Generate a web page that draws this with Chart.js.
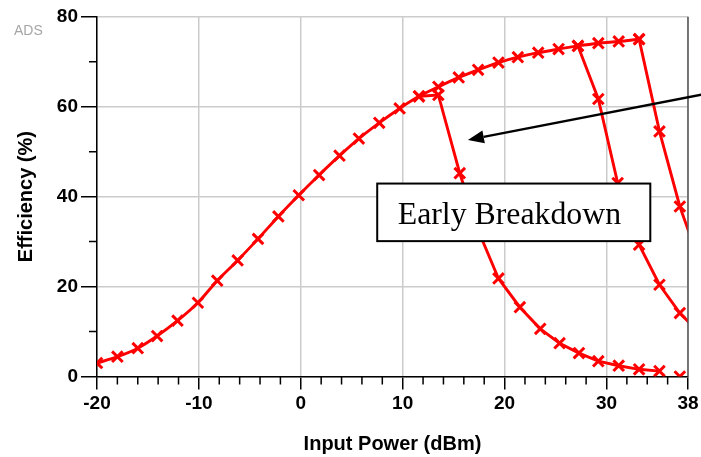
<!DOCTYPE html>
<html>
<head>
<meta charset="utf-8">
<script src="https://cdn.jsdelivr.net/npm/chart.js@4.4.0/dist/chart.umd.min.js"></script>
<style>
  html, body { margin: 0; padding: 0; background: #fff; }
</style>
</head>
<body>
<canvas id="chart" width="701" height="457"></canvas>
<script>
// input power sweep (dBm) -> efficiency (%)
var mainX = [-20, -18, -16, -14.1, -12.1, -10.1, -8.2, -6.2, -4.2, -2.2, -0.2, 1.8, 3.8, 5.7, 7.7, 9.7, 11.6, 13.5, 15.5, 17.4, 19.4, 21.3, 23.3, 25.3, 27.2, 29.2, 31.2, 33.2];
var mainY = [3.0, 4.4, 6.3, 9.0, 12.4, 16.4, 21.3, 25.8, 30.6, 35.6, 40.3, 44.8, 49.1, 52.9, 56.4, 59.6, 62.3, 64.4, 66.5, 68.2, 69.8, 71.0, 72.0, 72.8, 73.5, 74.1, 74.5, 75.0];

// breakdown branches
var b1X = [11.6, 13.5, 15.6, 17.5, 19.4, 21.5, 23.5, 25.4, 27.3, 29.2, 31.2, 33.2, 35.2, 37.2];
var b1Y = [62.3, 62.6, 45.2, 32.0, 21.8, 15.4, 10.6, 7.4, 5.2, 3.4, 2.4, 1.6, 1.2, 0.0];
var b2X = [27.2, 29.2, 31.1, 33.2, 35.2, 37.2, 39.2];
var b2Y = [73.5, 61.7, 43.0, 29.3, 20.4, 14.1, 9.5];
var b3X = [33.2, 35.2, 37.2, 39.2];
var b3Y = [75.0, 54.5, 37.8, 25.0];

var xTicks = [-20, -10, 0, 10, 20, 30, 38];
var yTicks = [0, 20, 40, 60, 80];

var red = '#ff0000';
var sans = "'Liberation Sans', Arial, sans-serif";

function pts(xs, ys) {
    return xs.map(function (x, i) { return { x: x, y: ys[i] }; });
}

function series(label, xs, ys) {
    return {
        label: label,
        data: pts(xs, ys),
        borderColor: red,
        borderWidth: 2.9,
        fill: false,
        tension: 0,
        pointStyle: 'crossRot',
        pointRadius: 7.5,
        pointHoverRadius: 7.5,
        pointBorderWidth: 3,
        pointBorderColor: red,
        pointBackgroundColor: red
    };
}

var mainSet = series('Efficiency', mainX, mainY);
mainSet.cubicInterpolationMode = 'monotone';
var br1 = series('Breakdown 1', b1X, b1Y);
// last marker sits alone on the axis
br1.segment = {
    borderColor: function (c) { return c.p1DataIndex === b1X.length - 1 ? 'transparent' : red; }
};

var extras = {
    id: 'extras',
    afterDatasetsDraw: function (chart) {
        var ctx = chart.ctx, xs = chart.scales.x, ys = chart.scales.y;
        var a = chart.chartArea;
        ctx.save();
        // right frame
        ctx.strokeStyle = '#555';
        ctx.lineWidth = 1.5;
        ctx.beginPath();
        ctx.moveTo(a.right, a.top);
        ctx.lineTo(a.right, a.bottom);
        ctx.stroke();

        // minor ticks
        ctx.strokeStyle = '#000';
        ctx.lineWidth = 1.5;
        ctx.beginPath();
        for (var v = -18; v < 38; v += 2) {
            if (v % 10 === 0) continue;
            var px = xs.getPixelForValue(v);
            ctx.moveTo(px, a.bottom);
            ctx.lineTo(px, a.bottom + 8);
        }
        for (var w = 10; w < 80; w += 20) {
            var py = ys.getPixelForValue(w);
            ctx.moveTo(a.left - 8, py);
            ctx.lineTo(a.left, py);
        }
        ctx.stroke();

        // arrow
        var x0 = xs.getPixelForValue(39.65), y0 = ys.getPixelForValue(62.8);
        var x1 = xs.getPixelForValue(16.4), y1 = ys.getPixelForValue(52.6);
        var ang = Math.atan2(y1 - y0, x1 - x0);
        var hl = 16, hw = 6.5;
        var bx = x1 - Math.cos(ang) * hl, by = y1 - Math.sin(ang) * hl;
        ctx.strokeStyle = '#000';
        ctx.lineWidth = 2.3;
        ctx.beginPath();
        ctx.moveTo(x0, y0);
        ctx.lineTo(bx, by);
        ctx.stroke();
        ctx.fillStyle = '#000';
        ctx.beginPath();
        ctx.moveTo(x1, y1);
        ctx.lineTo(bx + Math.sin(ang) * hw, by - Math.cos(ang) * hw);
        ctx.lineTo(bx - Math.sin(ang) * hw, by + Math.cos(ang) * hw);
        ctx.closePath();
        ctx.fill();

        // text box
        var l = xs.getPixelForValue(7.5), r = xs.getPixelForValue(34.3);
        var t = ys.getPixelForValue(42.9), b = ys.getPixelForValue(30.1);
        ctx.fillStyle = '#fff';
        ctx.fillRect(l, t, r - l, b - t);
        ctx.strokeStyle = '#000';
        ctx.lineWidth = 2;
        ctx.strokeRect(l, t, r - l, b - t);
        ctx.fillStyle = '#000';
        ctx.font = "31.8px 'Liberation Serif', 'Times New Roman', serif";
        ctx.textAlign = 'left';
        ctx.textBaseline = 'alphabetic';
        ctx.fillText('Early Breakdown', l + 20.5, t + 40);

        // ADS tag
        ctx.font = '14px ' + sans;
        ctx.fillStyle = '#a6a6a6';
        ctx.fillText('ADS', 14, 35);
        ctx.restore();
    }
};

var tickFont = { family: sans, size: 19, weight: 'bold' };
var titleFont = { family: sans, size: 20, weight: 'bold' };

new Chart(document.getElementById('chart').getContext('2d'), {
    type: 'line',
    data: { datasets: [mainSet, br1, series('Breakdown 2', b2X, b2Y), series('Breakdown 3', b3X, b3Y)] },
    options: {
        responsive: false,
        animation: false,
        events: [],
        layout: { padding: { top: 16.7, right: 13, left: 0, bottom: 0 } },
        plugins: { legend: { display: false }, tooltip: { enabled: false } },
        scales: {
            x: {
                type: 'linear',
                min: -20,
                max: 38,
                afterBuildTicks: function (s) { s.ticks = xTicks.map(function (v) { return { value: v }; }); },
                afterFit: function (s) { s.height = 80.5; s.paddingLeft = 0; s.paddingRight = 0; },
                grid: { color: '#cccccc', lineWidth: 1.5, tickLength: 13, tickColor: '#000', tickWidth: 1.5 },
                border: { color: '#000', width: 1.5 },
                ticks: { color: '#000', font: tickFont, padding: 3, maxRotation: 0, autoSkip: false },
                title: { display: true, text: 'Input Power (dBm)', color: '#000', font: titleFont, padding: { top: 0, bottom: 0.5 } }
            },
            y: {
                min: 0,
                max: 80,
                afterBuildTicks: function (s) { s.ticks = yTicks.map(function (v) { return { value: v }; }); },
                afterFit: function (s) { s.width = 97; s.paddingTop = 0; s.paddingBottom = 0; },
                grid: { color: '#cccccc', lineWidth: 1.5, tickLength: 16, tickColor: '#000', tickWidth: 1.5 },
                border: { color: '#000', width: 1.5 },
                ticks: { color: '#000', font: tickFont, padding: 3 },
                title: { display: true, text: 'Efficiency (%)', color: '#000', font: titleFont, padding: { top: 14.5, bottom: 0 } }
            }
        }
    },
    plugins: [extras]
});
</script>
</body>
</html>
